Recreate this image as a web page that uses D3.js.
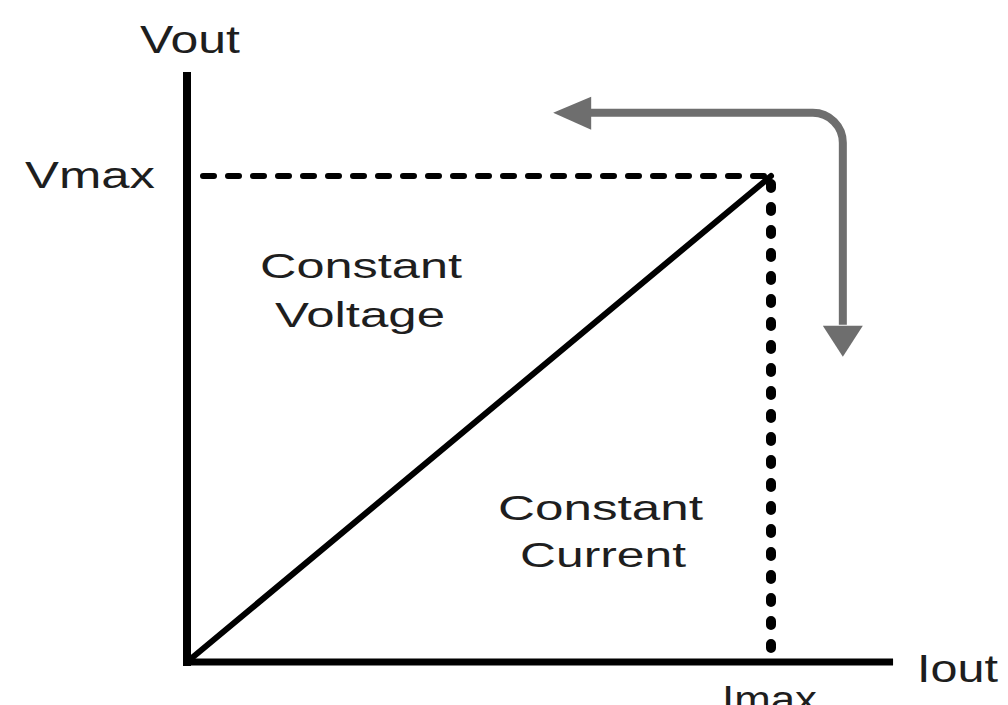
<!DOCTYPE html>
<meta charset="utf-8">
<head>
<script src="https://cdn.jsdelivr.net/npm/d3@7"></script>
<style>
  body { margin: 0; background: #fff; }
  text { font-family: "Liberation Sans", Arial, sans-serif; fill: #1e1e1e; }
</style>
</head>
<body>
<div id="chart"></div>
<script>
// operating limits (normalised: Imax = 1, Vmax = 1)
var iMax = 1, vMax = 1;
var axisMax = [1.209, 1.214];          // x end, y end of the axes
var ivLine = [[0, 0], [iMax, vMax]];   // load line from origin to the corner
var modeArrow = [[0.627, 1.13], [1.123, 1.13], [1.123, 0.628]];  // gray turning arrow

var axisNames = ["Iout", "Vout"];
var tickNames = ["Imax", "Vmax"];
var cvLabel = ["Constant", "Voltage"];
var ccLabel = ["Constant", "Current"];

var width = 1008, height = 705;

var svg = d3.select("#chart").append("svg")
    .attr("width", width)
    .attr("height", height);

var x = d3.scaleLinear().domain([0, 1]).range([187, 771]);
var y = d3.scaleLinear().domain([0, 1]).range([662, 176]);

var line = d3.line()
    .x(function(d) { return x(d[0]); })
    .y(function(d) { return y(d[1]); });

// Vmax dashed line
svg.append("line")
    .attr("x1", x(0) + 16).attr("x2", x(iMax))
    .attr("y1", y(vMax)).attr("y2", y(vMax))
    .attr("stroke", "#000").attr("stroke-width", 6)
    .attr("stroke-linecap", "round")
    .attr("stroke-dasharray", "11,14");

// Imax dotted line
svg.append("line")
    .attr("x1", x(iMax)).attr("x2", x(iMax))
    .attr("y1", y(vMax) + 8).attr("y2", y(0))
    .attr("stroke", "#000").attr("stroke-width", 10)
    .attr("stroke-linecap", "round")
    .attr("stroke-dasharray", "4,19");

// axes
svg.append("line")
    .attr("x1", x(0)).attr("x2", x(0))
    .attr("y1", y(axisMax[1])).attr("y2", y(0) + 4)
    .attr("stroke", "#000").attr("stroke-width", 8);
svg.append("line")
    .attr("x1", x(0) - 4).attr("x2", x(axisMax[0]))
    .attr("y1", y(0)).attr("y2", y(0))
    .attr("stroke", "#000").attr("stroke-width", 7);

// diagonal
svg.append("path")
    .datum(ivLine)
    .attr("d", line)
    .attr("fill", "none")
    .attr("stroke", "#000").attr("stroke-width", 6)
    .attr("stroke-linecap", "round");

// gray arrow with rounded corner
var ax0 = x(modeArrow[0][0]), ay0 = y(modeArrow[0][1]);
var ax1 = x(modeArrow[1][0]), ay1 = y(modeArrow[1][1]);
var ax2 = x(modeArrow[2][0]), ay2 = y(modeArrow[2][1]);
var r = 30, head = 38;
var p = d3.path();
p.moveTo(ax0 + head - 4, ay0);
p.lineTo(ax1 - r, ay1);
p.arcTo(ax1, ay1, ax1, ay1 + r, r);
p.lineTo(ax2, ay2 - head + 6);
svg.append("path")
    .attr("d", p.toString())
    .attr("fill", "none")
    .attr("stroke", "#6e6e6e").attr("stroke-width", 8);

svg.append("path")
    .attr("d", "M" + ax0 + "," + ay0 + "L" + (ax0 + head) + "," + (ay0 - 16) + "L" + (ax0 + head) + "," + (ay0 + 17) + "Z")
    .attr("fill", "#6e6e6e");
svg.append("path")
    .attr("d", "M" + ax2 + "," + ay2 + "L" + (ax2 - 20) + "," + (ay2 - 31) + "L" + (ax2 + 20) + "," + (ay2 - 31) + "Z")
    .attr("fill", "#6e6e6e");

// labels
function label(txt, x0, yb, size, len) {
  svg.append("text")
    .attr("x", x0).attr("y", yb)
    .attr("font-size", size)
    .attr("textLength", len)
    .attr("lengthAdjust", "spacingAndGlyphs")
    .text(txt);
}
label(axisNames[1], 140, 53, 38, 100);
label(tickNames[1], 25, 188, 36, 130);
label(axisNames[0], 917, 682, 38, 81);
label(tickNames[0], 722, 712, 36, 95);
label(cvLabel[0], 260, 278, 35, 202);
label(cvLabel[1], 275, 327, 35, 170);
label(ccLabel[0], 498, 520, 35, 205);
label(ccLabel[1], 520, 567, 35, 166);
</script>
</body>
